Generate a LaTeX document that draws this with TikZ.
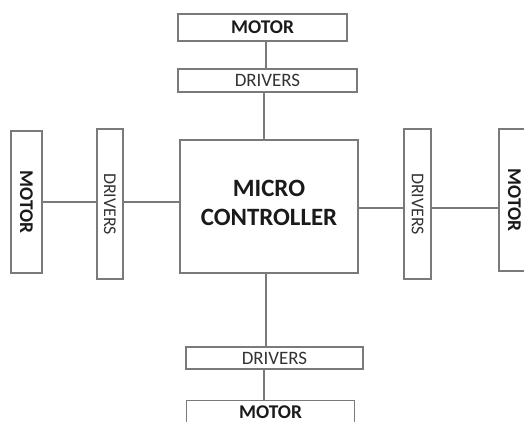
\documentclass[tikz,border=0pt]{standalone}
\usepackage{graphicx}
\usepackage{fontspec}
\setmainfont{Carlito}
\definecolor{linegray}{HTML}{7A7A7A}
\definecolor{txt}{HTML}{1A1A1A}
\definecolor{txtd}{HTML}{333333}
\begin{document}
\begin{tikzpicture}[x=1bp,y=-1bp,
  box/.style={draw=linegray, line width=1.3bp, fill=white, inner sep=0pt, anchor=center},
  motortxt/.style={font=\fontsize{19.5}{19.5}\selectfont\bfseries, text=txt},
  drvtxt/.style={font=\fontsize{19}{19}\selectfont, text=txtd},
  sidedrv/.style={font=\fontsize{18}{18}\selectfont, text=txtd},
  conn/.style={draw=linegray, line width=1.3bp}]
\useasboundingbox (0,0) rectangle (524,422);
\clip (0,0) rectangle (524,422);
\fill[white] (0,0) rectangle (524,422);
% top
\node[box, motortxt, minimum width=169bp, minimum height=27bp] (tm) at (262.5,27.5) {MOTOR};
\node[box, drvtxt, minimum width=179bp, minimum height=23bp] (td) at (267.5,80.5) {DRIVERS};
% controller
\node[box, minimum width=178bp, minimum height=133bp, align=center,
  font=\fontsize{25}{29}\selectfont\bfseries, text=txt] (mc) at (269,206.5) {MICRO\\CONTROLLER\rule[-8bp]{0pt}{0pt}};
% left
\node[box, motortxt, minimum width=31bp, minimum height=142bp] (lm) at (26.5,202) {\rotatebox{-90}{MOTOR}};
\node[box, sidedrv, minimum width=26bp, minimum height=150bp] (ld) at (110,204) {\rotatebox{-90}{DRIVERS}};
% right
\node[box, sidedrv, minimum width=27bp, minimum height=150bp] (rd) at (417.5,204) {\rotatebox{-90}{DRIVERS}};
\node[box, motortxt, minimum width=31bp, minimum height=142bp] (rm) at (514.5,200) {\rotatebox{-90}{MOTOR}};
% bottom
\node[box, drvtxt, minimum width=177bp, minimum height=22bp] (bd) at (274.5,358) {DRIVERS};
\node[box, draw=none, motortxt, minimum width=167bp, text height=17bp, text depth=3.5bp] (bm) at (270.5,411.25) {MOTOR};
\draw[conn] (bm.south west) -- (bm.north west) -- (bm.north east) -- (bm.south east);
% line positions
\coordinate (v1) at (266,0);
\coordinate (v2) at (264,0);
\coordinate (v3) at (266,0);
\coordinate (v4) at (264,0);
\coordinate (h1) at (0,202);
\coordinate (h2) at (0,208);
% connectors
\draw[conn] (v1 |- tm.south) -- (v1 |- td.north);
\draw[conn] (v2 |- td.south) -- (v2 |- mc.north);
\draw[conn] (v3 |- mc.south) -- (v3 |- bd.north);
\draw[conn] (v4 |- bd.south) -- (v4 |- bm.north);
\draw[conn] (h1 -| lm.east) -- (h1 -| ld.west);
\draw[conn] (h1 -| ld.east) -- (h1 -| mc.west);
\draw[conn] (h2 -| mc.east) -- (h2 -| rd.west);
\draw[conn] (h2 -| rd.east) -- (h2 -| rm.west);
\end{tikzpicture}
\end{document}
